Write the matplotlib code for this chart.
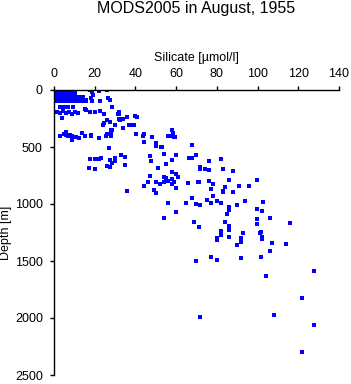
import numpy as np
import matplotlib
matplotlib.use("Agg")
import matplotlib.pyplot as plt

plt.rcParams['font.family'] = ['Liberation Sans', 'DejaVu Sans']

# silicate [umol/l] and depth [m]
# dense surface block (0-90 m)
sil_top = [0.5, 2, 3.5, 5, 6.5, 8, 9.5, 10.5,
           0.5, 2, 3.5, 5, 6.5, 8, 9.5, 10.5,
           0.5, 2, 3.5, 5, 6.5, 8, 9.5, 10.5,
           0.5, 2, 3.5, 5, 6.5, 8, 9.5, 10.5,
           0.5, 2, 3.5, 5, 6.5, 8, 9.5, 10.5,
           0.5, 2, 3.5, 5, 6.5, 8, 9.5, 11, 12.5, 14, 15.5]
dep_top = [5, 5, 5, 5, 5, 5, 5, 5,
           25, 25, 25, 25, 25, 25, 25, 25,
           45, 45, 45, 45, 45, 45, 45, 45,
           65, 65, 65, 65, 65, 65, 65, 65,
           80, 80, 80, 80, 80, 80, 80, 80,
           100, 100, 100, 100, 100, 100, 100, 100, 100, 100, 100]

sil_rest = [
    17.5, 18.9, 22.1, 26, 19, 18, 12.3, 14, 15.9, 13.5, 18.9, 22.4, 26.5, 27.4,
    3, 4.5, 6, 7, 9.5, 28.3,
    1.5, 3, 4.5, 6, 7.5, 9, 10.5, 12, 15.1, 15.6, 20, 22.4, 24.4, 17.5, 4.1,
    26, 24, 30.2, 31.6, 28.7, 28.2, 31.8, 31.8, 31.8, 33.9, 35.9, 40, 41,
    37.2, 39.1, 33.9, 24.4, 27.4, 29.8, 32.3, 36.8,
    6.1, 5.7, 6.9, 7.7, 9, 11, 12.3, 9, 13.9, 15.1, 18, 22.1, 5, 3, 18.4, 25.7,
    26, 27.8, 28.2, 40.1, 44.1, 43.7, 48.1, 44.2, 50.3, 50, 52.9, 54, 52.8,
    57.8, 56, 58.4, 58.9, 58, 59.3,
    67.8, 69.9, 68, 66.2, 27,
    17.5, 20, 22.1, 22.9, 20.3, 17.2, 27.4, 28.7, 29.8, 29.8, 26, 27.4,
    32.9, 34.9, 34.9, 47.8, 47, 51.1, 55.2, 58, 59.8,
    35.9, 44.2, 46.2, 47.2, 49.1, 50.3, 50.3, 52.1, 54, 54, 55, 56, 58, 58,
    58.8, 59.8, 61.1, 59.8, 58, 65.8, 70.9,
    56, 60.1, 54, 65, 67.8, 69.9, 68.8, 71.1, 69.9,
    71.9, 71.9, 74.2, 76, 76, 82, 83, 87.9,
    71.1, 76.1, 78.1, 86, 99.9,
    77.1, 83, 83, 84, 87.9, 90.9, 95.8,
    78.1, 75.1, 77.1, 80.1, 82, 86, 86, 89.9, 93.8, 102.8, 102, 99.9, 71.9,
    85, 84, 86, 86, 82, 92.8, 86, 82, 80.1, 80.1, 91.8, 91.8, 89.9,
    99.9, 99.9, 105.9, 101.9, 101, 102.3, 102, 106.9, 105.9, 114, 115.9,
    77.1, 80.1, 91.8, 101.9,
    104, 127.7, 121.8, 71.9, 107.9, 127.7, 121.8]
dep_rest = [
    0, 15, 6, 0, 44, 70, 59, 61, 88, 94, 96, 96, 73, 88,
    146, 146, 146, 146, 150, 146,
    190, 200, 185, 205, 195, 210, 190, 200, 167, 175, 193, 184, 213, 193, 248,
    263, 307, 307, 213, 351, 386, 190, 213, 254, 254, 239, 225, 239,
    307, 307, 331, 292, 278, 307, 263, 307,
    366, 395, 401, 395, 401, 410, 424, 439, 380, 401, 401, 424, 390, 400, 395, 401,
    386, 403, 351, 389, 389, 401, 410, 453, 467, 489, 503, 564, 497,
    351, 401, 380, 410, 401, 410,
    482, 570, 599, 599, 511,
    608, 608, 608, 594, 695, 681, 614, 638, 623, 599, 664, 678,
    570, 590, 660, 623, 579, 681, 652, 617, 570,
    883, 842, 809, 754, 877, 906, 809, 827, 807, 766, 774, 795, 716, 783,
    804, 737, 760, 862, 827, 818, 809,
    994, 1073, 1125, 994, 950, 1002, 1155, 1204, 1500,
    678, 690, 695, 704, 625, 608, 693, 710,
    809, 795, 827, 789, 792,
    871, 883, 899, 853, 895, 845, 845,
    932, 965, 988, 976, 988, 1023, 1055, 1011, 976, 980, 1059, 1046, 1011,
    1090, 1158, 1193, 1230, 1239, 1257, 1287, 1274, 1295, 1313, 1301, 1336, 1362,
    1131, 1178, 1125, 1243, 1257, 1292, 1307, 1344, 1415, 1348, 1169,
    1462, 1494, 1476, 1467,
    1634, 1587, 1822, 1993, 1973, 2064, 2300]

x_ticks = [0, 20, 40, 60, 80, 100, 120, 140]
y_ticks = [0, 500, 1000, 1500, 2000, 2500]

W, H = 351, 384
fig = plt.figure(figsize=(W / 100, H / 100), dpi=100)
ax = fig.add_axes([54 / W, 1 - 375 / H, 285 / W, 285 / H])

sil = sil_top + sil_rest
dep = dep_top + dep_rest
ax.plot(sil, dep, 's', color='#0000ff', markersize=2.3, markeredgewidth=0)

ax.set_xlim(0, 140)
ax.set_ylim(2500, 0)
ax.set_xticks(x_ticks)
ax.set_yticks(y_ticks)
ax.xaxis.tick_top()
ax.xaxis.set_label_position('top')
for s in ['right', 'bottom']:
    ax.spines[s].set_visible(False)
for s in ['left', 'top']:
    ax.spines[s].set_linewidth(1.0)
ax.tick_params(axis='x', length=3, width=1, pad=4, labelsize=9)
ax.tick_params(axis='y', length=3, width=1, pad=5, labelsize=9)
ax.set_xlabel('Silicate [µmol/l]', fontsize=9, labelpad=5)
ax.set_ylabel('Depth [m]', fontsize=9, labelpad=2)

fig.text(196.5 / W, 1 - 9 / H, 'MODS2005 in August, 1955', ha='center', va='center',
         fontsize=11.5)

fig.savefig('out.png', dpi=100)
